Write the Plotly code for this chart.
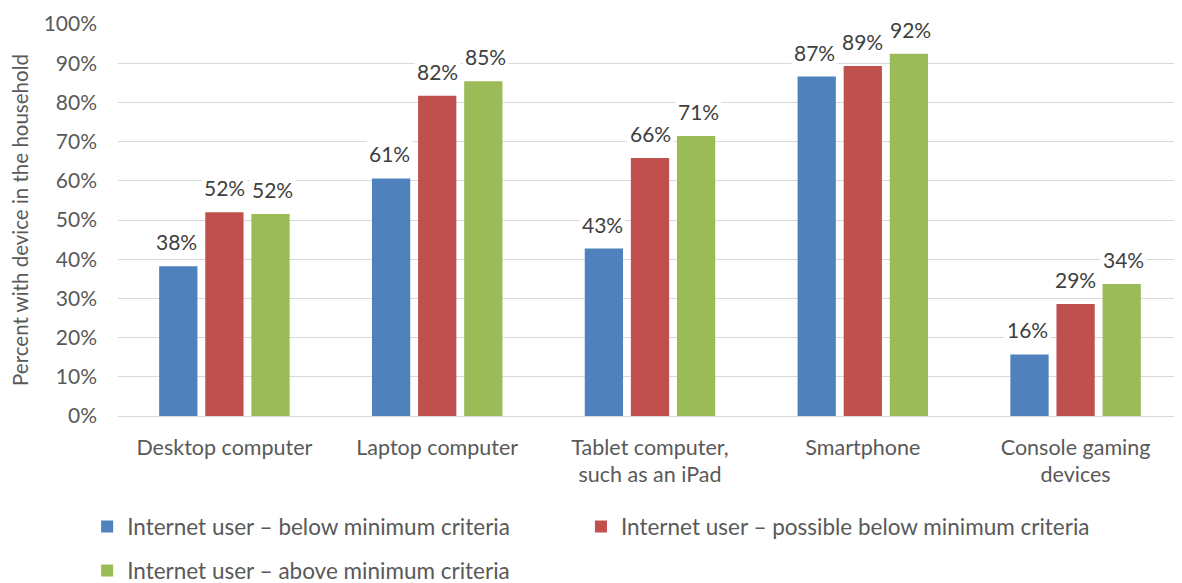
import plotly.graph_objects as go

categories = ["Desktop computer", "Laptop computer", "Tablet computer,<br>such as an iPad",
              "Smartphone", "Console gaming<br>devices"]
series_names = ["Internet user – below minimum criteria",
                "Internet user – possible below minimum criteria",
                "Internet user – above minimum criteria"]
below = [0.382, 0.606, 0.427, 0.866, 0.157]
possible = [0.520, 0.817, 0.658, 0.893, 0.286]
above = [0.515, 0.854, 0.714, 0.924, 0.337]
colors = ["#4F81BD", "#C0504D", "#9BBB59"]

FONT = "Lato"
TXT = "#595959"

fig = go.Figure()
all_vals = [below, possible, above]
legends = ["legend", "legend3", "legend2"]
for name, vals, col, lg in zip(series_names, all_vals, colors, legends):
    fig.add_trace(go.Bar(x=categories, y=vals, name=name, marker_color=col,
                         marker_line_width=0, legend=lg))

shifts = [-48, 0, 48]
for vals, sh in zip(all_vals, shifts):
    for c, v in zip(categories, vals):
        fig.add_annotation(x=c, y=v, text=f"{round(v*100):.0f}%", showarrow=False,
                           xshift=sh, yshift=9, yanchor="bottom",
                           bgcolor="white", borderpad=2,
                           font=dict(family=FONT, size=21, color="#404040"))

leg_common = dict(orientation="h", xanchor="left", yanchor="middle",
                  font=dict(family=FONT, size=22.5, color=TXT), bgcolor="rgba(0,0,0,0)")

# page body has an 8px margin: figure is laid out 8px smaller
fig.update_layout(
    width=1174, height=575,
    margin=dict(l=110, r=0, t=16, b=167, autoexpand=False),
    plot_bgcolor="white", paper_bgcolor="white",
    barmode="group", bargap=0.35, bargroupgap=0.17,
    font=dict(family=FONT, size=20, color=TXT),
    xaxis=dict(showgrid=False, showline=False, ticks="", ticklabelstandoff=16,
               tickfont=dict(size=21.5, color=TXT)),
    yaxis=dict(range=[0, 1], dtick=0.1, tickformat=".0%", showgrid=True,
               gridcolor="#D9D9D9", gridwidth=1.3, zeroline=True, zerolinecolor="#D9D9D9",
               zerolinewidth=1.3, showline=False, ticks="", ticklabelstandoff=20,
               tickfont=dict(size=21, color=TXT),
               title=dict(text="Percent with device in the household", standoff=12,
                          font=dict(size=20.5, color=TXT))),
    legend=dict(x=-0.029, y=-0.283, **leg_common),
    legend3=dict(x=0.4351, y=-0.283, **leg_common),
    legend2=dict(x=-0.029, y=-0.395, **leg_common),
    showlegend=True,
)

fig.write_html("out.html")
